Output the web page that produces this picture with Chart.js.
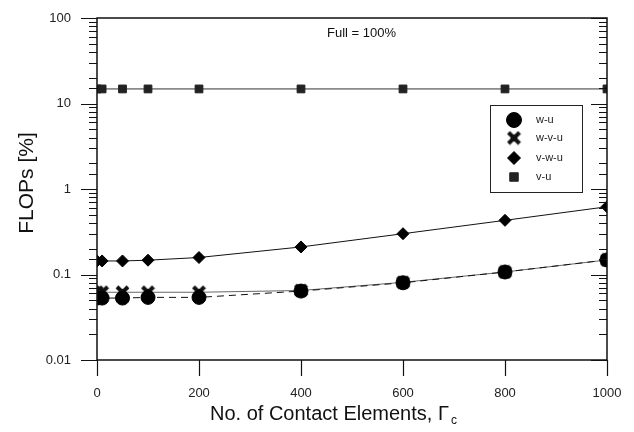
<!DOCTYPE html>
<html>
<head>
<meta charset="utf-8">
<script src="https://cdn.jsdelivr.net/npm/chart.js@4/dist/chart.umd.min.js"></script>
<style>
  body { margin: 0; background: #fff; }
  #wrap { width: 634px; height: 432px; }
</style>
</head>
<body>
<div id="wrap"><canvas id="chart" width="634" height="432"></canvas></div>
<script>
// Datos
const contactElements = [0, 10, 50, 100, 200, 400, 600, 800, 1000];
const wu  = [0.053, 0.053, 0.053, 0.054, 0.054, 0.064, 0.080, 0.107, 0.148];
const wvu = [0.062, 0.062, 0.062, 0.062, 0.062, 0.065, 0.081, 0.107, 0.148];
const vwu = [0.144, 0.144, 0.144, 0.147, 0.158, 0.21, 0.30, 0.43, 0.62];
const vu  = [14.8, 14.8, 14.8, 14.8, 14.8, 14.8, 14.8, 14.8, 14.8];
const seriesLabels = ['w-u', 'w-v-u', 'v-w-u', 'v-u'];
const yTickLabels = ['0.01', '0.1', '1', '10', '100'];
const xTickLabels = ['0', '200', '400', '600', '800', '1000'];
const noteText = 'Full = 100%';
const xTitle = 'No. of Contact Elements, Γ';
const xTitleSub = 'c';
const yTitle = 'FLOPs [%]';

const font = "'Liberation Sans', Arial, sans-serif";

function toPoints(ys) {
    return contactElements.map((x, i) => ({ x: x, y: ys[i] }));
}

function isDecade(v) {
    const l = Math.log10(v);
    return Math.abs(l - Math.round(l)) < 1e-6;
}

// Marcador "X" grueso como imagen
function makeCross(size, color) {
    const c = document.createElement('canvas');
    c.width = size; c.height = size;
    const g = c.getContext('2d');
    g.strokeStyle = color;
    g.lineWidth = 4;
    const p = 2;
    g.beginPath();
    g.moveTo(p, p); g.lineTo(size - p, size - p);
    g.moveTo(size - p, p); g.lineTo(p, size - p);
    g.stroke();
    g.fillStyle = color;
    g.beginPath();
    g.arc(size / 2, size / 2, 3.5, 0, Math.PI * 2);
    g.fill();
    return c;
}
const crossImg = makeCross(15, '#111');

// Marco, marcas de ejes, titulos, leyenda y nota
const decorPlugin = {
    id: 'decor',
    afterDraw(chart) {
        const ctx = chart.ctx;
        const a = chart.chartArea;
        const ys = chart.scales.y;
        const xs = chart.scales.x;
        ctx.save();
        ctx.strokeStyle = '#111';
        ctx.lineWidth = 1.5;
        ctx.strokeRect(a.left, a.top, a.right - a.left, a.bottom - a.top);

        ctx.lineWidth = 1.2;
        ys.ticks.forEach(t => {
            const py = Math.round(ys.getPixelForValue(t.value)) + 0.5;
            const len = isDecade(t.value) ? 16 : 8;
            ctx.beginPath();
            ctx.moveTo(a.left - len, py); ctx.lineTo(a.left, py);
            ctx.moveTo(a.right - len, py); ctx.lineTo(a.right, py);
            ctx.stroke();
        });
        xs.ticks.forEach(t => {
            const px = Math.round(xs.getPixelForValue(t.value)) + 0.5;
            ctx.beginPath();
            ctx.moveTo(px, a.bottom); ctx.lineTo(px, a.bottom + 16);
            ctx.stroke();
        });

        ctx.fillStyle = '#111';
        ctx.textBaseline = 'alphabetic';
        ctx.textAlign = 'left';

        // titulo eje x con subindice
        ctx.font = '20px ' + font;
        ctx.fillText(xTitle, 210, 420);
        const w = ctx.measureText(xTitle).width;
        ctx.font = '12px ' + font;
        ctx.fillText(xTitleSub, 210 + w + 2, 424);

        // titulo eje y
        ctx.save();
        ctx.translate(33, 183);
        ctx.rotate(-Math.PI / 2);
        ctx.textAlign = 'center';
        ctx.font = '21px ' + font;
        ctx.fillText(yTitle, 0, 0);
        ctx.restore();

        // nota
        ctx.font = '13px ' + font;
        ctx.textBaseline = 'middle';
        ctx.fillText(noteText, 327, 33);

        // leyenda
        ctx.lineWidth = 1;
        ctx.strokeStyle = '#222';
        ctx.strokeRect(490.5, 105.5, 92, 87);
        const rows = [120, 138, 158, 177];
        chart.data.datasets.forEach((ds, i) => {
            ctx.fillStyle = ds.pointBackgroundColor;
            ctx.strokeStyle = ds.pointBorderColor;
            ctx.lineWidth = 1;
            Chart.helpers.drawPoint(ctx, {
                pointStyle: ds.pointStyle,
                radius: ds.pointRadius + 0.5,
                borderWidth: 1,
                rotation: 0
            }, 514, rows[i]);
            ctx.fillStyle = '#222';
            ctx.font = '11px ' + font;
            ctx.fillText(ds.label, 536, rows[i]);
        });
        ctx.restore();
    }
};

// Estilo de cada serie
function makeDataset(label, ys, style, radius, color, dash, lineColor) {
    return {
        label: label,
        data: toPoints(ys),
        borderColor: lineColor,
        borderWidth: 1,
        borderDash: dash,
        backgroundColor: color,
        pointStyle: style,
        pointRadius: radius,
        pointBackgroundColor: color,
        pointBorderColor: color,
        pointBorderWidth: 1,
        fill: false,
        tension: 0
    };
}

const datasets = [
    makeDataset(seriesLabels[0], wu, 'circle', 7, '#000', [7, 5], '#111'),
    makeDataset(seriesLabels[1], wvu, crossImg, 7, '#111', [], '#666'),
    makeDataset(seriesLabels[2], vwu, 'rectRot', 6, '#000', [], '#111'),
    makeDataset(seriesLabels[3], vu, 'rect', 5.5, '#222', [], '#333')
];

const ctx = document.getElementById('chart').getContext('2d');
const chart = new Chart(ctx, {
    type: 'line',
    data: { datasets: datasets },
    options: {
        responsive: false,
        animation: false,
        devicePixelRatio: 1,
        layout: { padding: { top: 18, right: 27, left: 0, bottom: 0 } },
        plugins: {
            legend: { display: false },
            tooltip: { enabled: false }
        },
        scales: {
            x: {
                type: 'linear',
                min: 0,
                max: 1000,
                grid: { display: false, drawTicks: true, tickLength: 24 },
                border: { display: false },
                ticks: {
                    stepSize: 200,
                    padding: 2,
                    color: '#222',
                    font: { family: font, size: 13 },
                    callback: v => xTickLabels.includes(String(v)) ? String(v) : ''
                },
                afterFit: s => { s.height = 72; }
            },
            y: {
                type: 'logarithmic',
                min: 0.01,
                max: 100,
                grid: { display: false, drawTicks: true, tickLength: 24 },
                border: { display: false },
                ticks: {
                    padding: 2,
                    color: '#222',
                    autoSkip: false,
                    font: { family: font, size: 13 },
                    callback: function(v) {
                        if (!isDecade(v)) return '';
                        return yTickLabels[Math.round(Math.log10(v)) + 2];
                    }
                },
                afterFit: s => { s.width = 97; }
            }
        }
    },
    plugins: [decorPlugin]
});
</script>
</body>
</html>
